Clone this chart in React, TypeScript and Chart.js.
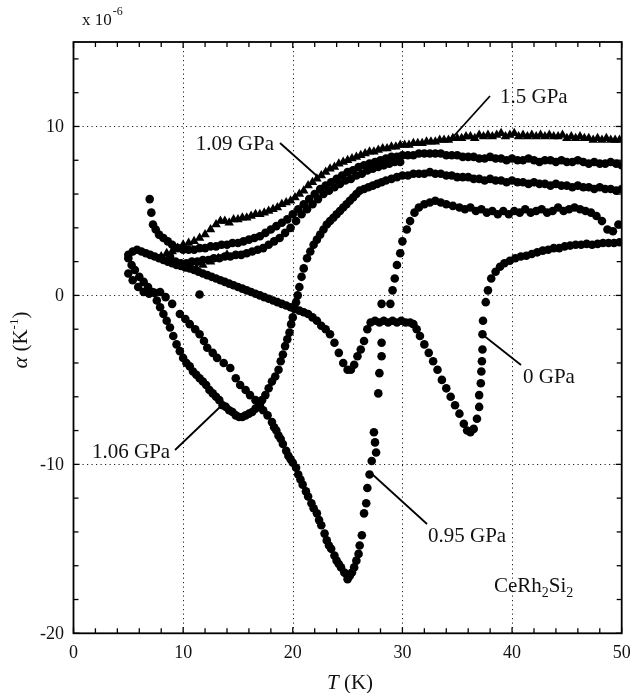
import React, { useEffect, useRef } from 'react';
import { Chart, registerables } from 'chart.js';

Chart.register(...registerables);

// ---- tick values ----
const xTicks = [0, 10, 20, 30, 40, 50];
const yTicks = [-20, -10, 0, 10];
const xGridValues = [10, 20, 30, 40];
const yGridValues = [-10, 0, 10];

// ---- series: [T (K), alpha (1e-6 / K)] ----
const p0GPa: number[][] = [
  [5.0,2.4],[5.4,2.6],[5.8,2.7],[6.2,2.6],[6.6,2.5],[7.0,2.4],[7.4,2.3],[7.8,2.2],[8.2,2.1],[8.6,2.0],
  [9.0,1.9],[9.4,1.8],[9.8,1.75],[10.2,1.65],[10.6,1.6],[11.0,1.5],[11.4,1.4],[11.8,1.3],[12.2,1.2],[12.6,1.1],
  [13.0,1.0],[13.4,0.9],[13.8,0.8],[14.2,0.7],[14.6,0.6],[15.0,0.5],[15.4,0.4],[15.8,0.3],[16.2,0.2],[16.6,0.1],
  [17.0,0.0],[17.4,-0.1],[17.8,-0.2],[18.2,-0.3],[18.6,-0.4],[19.0,-0.5],[19.4,-0.6],[19.8,-0.7],[20.2,-0.8],[20.6,-0.9],
  [21.0,-1.0],[21.4,-1.1],[21.8,-1.3],[22.2,-1.5],[22.6,-1.8],[23.0,-2.0],[23.4,-2.3],[23.8,-2.8],[24.2,-3.4],[24.6,-4.0],
  [25.0,-4.4],[25.3,-4.4],[25.6,-4.1],[25.9,-3.6],[26.2,-3.2],[26.5,-2.7],[26.8,-2.0],[27.1,-1.6],[27.5,-1.5],[27.9,-1.6],
  [28.3,-1.5],[28.7,-1.6],[29.1,-1.5],[29.5,-1.6],[29.9,-1.5],[30.3,-1.6],[30.7,-1.6],[31.0,-1.7],[31.3,-2.0],[31.6,-2.4],
  [32.0,-2.9],[32.4,-3.4],[32.8,-3.9],[33.2,-4.4],[33.6,-5.0],[34.0,-5.5],[34.4,-6.0],[34.8,-6.5],[35.2,-7.0],[35.6,-7.6],
  [35.9,-8.0],[36.2,-8.1],[36.5,-7.9],[36.8,-7.3],[37.0,-6.6],[37.0,-5.9],[37.15,-5.2],[37.2,-4.5],[37.25,-3.9],[37.3,-3.2],
  [37.3,-2.3],[37.35,-1.5],[37.6,-0.4],[37.8,0.3],[38.1,1.0],[38.5,1.4],[38.9,1.7],[39.3,1.9],[39.8,2.05],[40.3,2.2],
  [40.8,2.3],[41.3,2.35],[41.8,2.45],[42.3,2.55],[42.8,2.65],[43.3,2.7],[43.8,2.8],[44.3,2.8],[44.8,2.9],[45.3,2.95],
  [45.8,3.0],[46.3,3.0],[46.8,3.05],[47.3,3.0],[47.8,3.05],[48.3,3.1],[48.8,3.1],[49.3,3.1],[49.8,3.15],
];

const p095GPa: number[][] = [
  [5.0,1.3],[5.4,0.9],[5.9,0.5],[6.4,0.2],[6.9,0.1],[7.4,0.15],[7.9,0.2],[8.4,-0.1],[9.0,-0.5],[9.7,-1.1],
  [10.2,-1.4],[10.6,-1.7],[11.1,-2.0],[11.5,-2.3],[11.5,0.05],[11.9,-2.7],[12.2,-3.1],[12.7,-3.4],[13.1,-3.7],[13.7,-4.0],
  [14.3,-4.3],[14.8,-4.9],[15.2,-5.3],[15.7,-5.6],[16.1,-5.9],[16.6,-6.2],[17.0,-6.5],[17.3,-6.8],[17.7,-7.1],[18.1,-7.5],
  [18.3,-7.8],[18.5,-8.0],[18.7,-8.3],[18.9,-8.5],[19.1,-8.8],[19.4,-9.2],[19.6,-9.5],[19.8,-9.7],[20.0,-9.9],[20.3,-10.2],
  [20.5,-10.6],[20.7,-10.9],[20.9,-11.2],[21.2,-11.6],[21.4,-11.9],[21.7,-12.3],[21.9,-12.6],[22.2,-12.9],[22.4,-13.3],[22.6,-13.6],
  [22.9,-14.1],[23.1,-14.5],[23.3,-14.8],[23.5,-15.0],[23.8,-15.4],[24.0,-15.7],[24.2,-15.9],[24.4,-16.1],[24.7,-16.4],[24.9,-16.5],
  [25.0,-16.8],[25.2,-16.6],[25.4,-16.4],[25.6,-16.1],[25.8,-15.7],[26.0,-15.3],[26.1,-14.8],[26.3,-14.2],[26.5,-12.9],[26.7,-12.3],
  [26.8,-11.4],[27.0,-10.6],[27.2,-9.8],[27.6,-9.3],[27.5,-8.7],[27.4,-8.1],[27.8,-5.8],[27.9,-4.6],[28.1,-3.6],[28.1,-2.8],
  [28.1,-0.5],[28.9,-0.5],[29.1,0.3],[29.3,1.0],[29.5,1.8],[29.8,2.5],[30.0,3.2],[30.4,3.9],[30.7,4.4],[31.1,4.9],
  [31.5,5.2],[32.0,5.4],[32.5,5.5],[33.0,5.6],[33.5,5.5],[34.0,5.4],[34.6,5.3],[35.2,5.2],[35.7,5.1],[36.2,5.2],
  [36.7,5.0],[37.2,5.1],[37.7,4.9],[38.2,5.0],[38.7,4.8],[39.2,5.0],[39.7,4.8],[40.2,5.0],[40.7,4.9],[41.2,5.1],
  [41.7,4.9],[42.2,5.0],[42.7,5.1],[43.2,4.9],[43.7,5.0],[44.2,5.2],[44.7,5.0],[45.2,5.1],[45.7,5.2],[46.2,5.1],
  [46.7,5.0],[47.2,4.9],[47.7,4.7],[48.2,4.4],[48.7,3.9],[49.2,3.8],[49.7,4.2],
];

const p106GPa: number[][] = [
  [5.0,2.2],[5.3,1.8],[5.6,1.5],[6.0,1.1],[6.4,0.8],[6.8,0.5],[7.2,0.2],[7.6,-0.3],[7.9,-0.7],[8.2,-1.1],
  [8.5,-1.5],[8.8,-1.9],[9.1,-2.4],[9.4,-2.9],[9.7,-3.3],[10.0,-3.7],[10.3,-4.0],[10.6,-4.2],[10.9,-4.5],[11.2,-4.7],
  [11.5,-4.9],[11.8,-5.1],[12.1,-5.3],[12.4,-5.6],[12.7,-5.8],[13.0,-6.0],[13.3,-6.2],[13.6,-6.5],[13.9,-6.6],[14.2,-6.8],
  [14.5,-6.9],[14.8,-7.1],[15.1,-7.2],[15.4,-7.2],[15.7,-7.1],[16.0,-7.0],[16.3,-6.9],[16.6,-6.7],[16.9,-6.4],[17.2,-6.2],
  [17.5,-5.9],[17.8,-5.5],[18.1,-5.1],[18.4,-4.8],[18.7,-4.4],[18.9,-3.9],[19.1,-3.5],[19.3,-3.0],[19.5,-2.6],[19.7,-2.2],
  [19.85,-1.7],[20.0,-1.3],[20.15,-0.8],[20.3,-0.4],[20.45,0.0],[20.6,0.5],[20.8,1.1],[21.0,1.6],[21.3,2.2],[21.6,2.6],
  [21.9,3.0],[22.2,3.3],[22.5,3.6],[22.8,3.9],[23.1,4.2],[23.4,4.4],[23.7,4.6],[24.0,4.8],[24.3,5.0],[24.6,5.2],
  [24.9,5.4],[25.2,5.6],[25.5,5.8],[25.8,6.0],[26.1,6.2],[26.5,6.3],[26.9,6.4],[27.3,6.5],[27.7,6.6],[28.1,6.7],
  [28.5,6.8],[29.0,6.9],[29.5,7.0],[30.0,7.1],[30.5,7.1],[31.0,7.2],[31.5,7.2],[32.0,7.2],[32.5,7.3],[33.0,7.2],
  [33.5,7.2],[34.0,7.1],[34.5,7.1],[35.0,7.0],[35.5,7.0],[36.0,7.0],[36.5,6.9],[37.0,6.9],[37.5,6.8],[38.0,6.9],
  [38.5,6.8],[39.0,6.8],[39.5,6.7],[40.0,6.8],[40.5,6.7],[41.0,6.7],[41.5,6.6],[42.0,6.7],[42.5,6.6],[43.0,6.6],
  [43.5,6.5],[44.0,6.6],[44.5,6.5],[45.0,6.5],[45.5,6.4],[46.0,6.5],[46.5,6.4],[47.0,6.4],[47.5,6.3],[48.0,6.4],
  [48.5,6.3],[49.0,6.3],[49.5,6.2],[50.0,6.3],
];

const p109GPa: number[][] = [
  [6.95,5.7],[7.1,4.9],[7.25,4.2],[7.5,3.9],[7.8,3.6],[8.2,3.4],[8.6,3.2],[9.0,3.0],[9.5,2.8],[10.0,2.7],
  [10.5,2.7],[11.0,2.7],[11.5,2.8],[12.0,2.8],[12.5,2.9],[13.0,2.9],[13.5,3.0],[14.0,3.0],[14.5,3.1],[15.0,3.1],
  [15.5,3.2],[16.0,3.3],[16.5,3.4],[17.0,3.5],[17.5,3.7],[18.0,3.9],[18.5,4.1],[19.0,4.3],[19.5,4.5],[20.0,4.8],
  [20.5,5.1],[21.0,5.4],[21.5,5.7],[22.0,6.0],[22.5,6.3],[23.0,6.5],[23.5,6.7],[24.0,6.9],[24.5,7.1],[25.0,7.3],
  [25.5,7.4],[26.0,7.6],[26.5,7.7],[27.0,7.8],[27.5,7.9],[28.0,8.0],[28.5,8.1],[29.0,8.2],[29.5,8.2],[30.0,8.3],
  [30.5,8.3],[31.0,8.3],[31.5,8.4],[32.0,8.4],[32.5,8.4],[33.0,8.4],[33.5,8.4],[34.0,8.3],[34.5,8.3],[35.0,8.3],
  [35.5,8.2],[36.0,8.2],[36.5,8.2],[37.0,8.1],[37.5,8.1],[38.0,8.2],[38.5,8.1],[39.0,8.1],[39.5,8.0],[40.0,8.1],
  [40.5,8.0],[41.0,8.0],[41.5,8.1],[42.0,8.0],[42.5,7.9],[43.0,8.0],[43.5,8.0],[44.0,7.9],[44.5,8.0],[45.0,7.9],
  [45.5,7.9],[46.0,8.0],[46.5,7.9],[47.0,7.8],[47.5,7.9],[48.0,7.8],[48.5,7.8],[49.0,7.9],[49.5,7.8],[50.0,7.7],
  // second run of the same pressure
  [8.8,2.3],[9.3,2.0],[9.8,1.9],[10.3,1.9],[10.8,2.0],[11.3,2.0],[11.8,2.1],[12.3,2.1],[12.8,2.2],[13.3,2.2],
  [13.8,2.3],[14.3,2.3],[14.8,2.4],[15.3,2.4],[15.8,2.5],[16.3,2.6],[16.8,2.7],[17.3,2.8],[17.8,3.0],[18.3,3.2],
  [18.8,3.4],[19.3,3.7],[19.8,4.0],[20.3,4.4],[20.8,4.8],[21.3,5.1],[21.8,5.4],[22.3,5.7],[22.8,6.0],[23.3,6.2],
  [23.8,6.4],[24.3,6.6],[24.8,6.8],[25.3,6.9],[25.8,7.1],[26.3,7.2],[26.8,7.4],[27.3,7.5],[27.8,7.6],[28.3,7.7],
  [28.8,7.8],[29.3,7.9],[29.8,7.9],
];

const p15GPa: number[][] = [
  [8.0,2.3],[8.5,2.5],[9.0,2.6],[9.5,2.8],[10.0,3.0],[10.5,3.1],[11.0,3.2],[11.5,3.4],[12.0,3.6],[12.5,3.9],
  [13.0,4.2],[13.4,4.4],[13.8,4.4],[14.2,4.3],[14.6,4.5],[15.0,4.5],[15.4,4.6],[15.8,4.6],[16.2,4.7],[16.6,4.8],
  [17.0,4.8],[17.4,4.9],[17.8,5.0],[18.2,5.1],[18.6,5.2],[19.0,5.4],[19.4,5.5],[19.8,5.6],[20.2,5.8],[20.6,6.0],
  [21.0,6.2],[21.4,6.5],[21.8,6.7],[22.2,6.9],[22.6,7.1],[23.0,7.3],[23.4,7.5],[23.8,7.6],[24.2,7.8],[24.6,7.9],
  [25.0,8.0],[25.4,8.1],[25.8,8.2],[26.2,8.3],[26.6,8.4],[27.0,8.5],[27.4,8.5],[27.8,8.6],[28.2,8.7],[28.6,8.7],
  [29.0,8.8],[29.4,8.8],[29.8,8.9],[30.2,8.9],[30.6,8.9],[31.0,9.0],[31.4,9.0],[31.8,9.0],[32.2,9.1],[32.6,9.1],
  [33.0,9.1],[33.4,9.2],[33.8,9.2],[34.2,9.2],[34.6,9.3],[35.0,9.3],[35.4,9.3],[35.8,9.4],[36.2,9.4],[36.6,9.3],
  [37.0,9.5],[37.4,9.4],[37.8,9.5],[38.2,9.4],[38.6,9.5],[39.0,9.6],[39.4,9.4],[39.8,9.5],[40.2,9.6],[40.6,9.4],
  [41.0,9.5],[41.4,9.4],[41.8,9.5],[42.2,9.4],[42.6,9.5],[43.0,9.4],[43.4,9.5],[43.8,9.4],[44.2,9.4],[44.6,9.5],
  [45.0,9.3],[45.4,9.4],[45.8,9.3],[46.2,9.4],[46.6,9.3],[47.0,9.3],[47.4,9.2],[47.8,9.3],[48.2,9.2],[48.6,9.3],
  [49.0,9.2],[49.4,9.2],[49.8,9.2],
  [11.2,1.6],[11.8,1.8],[12.5,2.0],[13.2,2.2],[14.0,2.4],
];

const SERIF = '"Liberation Serif", "DejaVu Serif", serif';

const toPts = (a: number[][]) => a.map(([x, y]) => ({ x, y }));

const decorPlugin = {
  id: 'decor',
  beforeDatasetsDraw(chart: any) {
    const { ctx, chartArea, scales } = chart;
    const { left, right, top, bottom } = chartArea;
    const x = scales.x, y = scales.y;
    ctx.save();
    ctx.strokeStyle = '#222';
    ctx.lineWidth = 1;
    ctx.setLineDash([1.2, 3.3]);
    xGridValues.forEach((v) => {
      const px = Math.round(x.getPixelForValue(v)) + 0.5;
      ctx.beginPath(); ctx.moveTo(px, top); ctx.lineTo(px, bottom); ctx.stroke();
    });
    yGridValues.forEach((v) => {
      const py = Math.round(y.getPixelForValue(v)) + 0.5;
      ctx.beginPath(); ctx.moveTo(left, py); ctx.lineTo(right, py); ctx.stroke();
    });
    ctx.restore();
  },
  afterDatasetsDraw(chart: any) {
    const { ctx, chartArea, scales } = chart;
    const { left, right, top, bottom } = chartArea;
    const x = scales.x, y = scales.y;
    ctx.save();
    ctx.setLineDash([]);
    ctx.strokeStyle = '#000';
    // frame
    ctx.lineWidth = 1.8;
    ctx.strokeRect(left, top, right - left, bottom - top);
    // minor/major ticks inside
    ctx.lineWidth = 1.3;
    for (let v = 0; v <= 50; v += 2) {
      const px = x.getPixelForValue(v);
      const len = v % 10 === 0 ? 6 : 5;
      ctx.beginPath(); ctx.moveTo(px, bottom); ctx.lineTo(px, bottom - len); ctx.stroke();
      ctx.beginPath(); ctx.moveTo(px, top); ctx.lineTo(px, top + len); ctx.stroke();
    }
    for (let v = -20; v <= 14; v += 2) {
      const py = y.getPixelForValue(v);
      const len = v % 10 === 0 ? 6 : 5;
      ctx.beginPath(); ctx.moveTo(left, py); ctx.lineTo(left + len, py); ctx.stroke();
      ctx.beginPath(); ctx.moveTo(right, py); ctx.lineTo(right - len, py); ctx.stroke();
    }
    // tick labels
    ctx.fillStyle = '#111';
    ctx.font = `18px ${SERIF}`;
    ctx.textAlign = 'center';
    ctx.textBaseline = 'alphabetic';
    xTicks.forEach((v) => {
      ctx.fillText(String(v), x.getPixelForValue(v), 658);
    });
    ctx.textAlign = 'right';
    ctx.textBaseline = 'middle';
    yTicks.forEach((v) => {
      ctx.fillText(String(v), 64, y.getPixelForValue(v) + 1);
    });

    // x 10^-6
    ctx.textAlign = 'left';
    ctx.textBaseline = 'alphabetic';
    ctx.font = `17px ${SERIF}`;
    ctx.fillText('x 10', 82, 25);
    const w10 = ctx.measureText('x 10').width;
    ctx.font = `12px ${SERIF}`;
    ctx.fillText('-6', 82 + w10 + 1, 15);

    // x title
    ctx.font = `italic 21px ${SERIF}`;
    const wT = ctx.measureText('T').width;
    ctx.font = `21px ${SERIF}`;
    const wK = ctx.measureText(' (K)').width;
    const sx = 350 - (wT + wK) / 2;
    ctx.font = `italic 21px ${SERIF}`;
    ctx.fillText('T', sx, 689);
    ctx.font = `21px ${SERIF}`;
    ctx.fillText(' (K)', sx + wT, 689);

    // y title (rotated)
    ctx.save();
    ctx.translate(27, 340);
    ctx.rotate(-Math.PI / 2);
    ctx.font = `italic 22px ${SERIF}`;
    const wa = ctx.measureText('\u03b1').width;
    ctx.font = `21px ${SERIF}`;
    const wk = ctx.measureText(' (K').width;
    const wc = ctx.measureText(')').width;
    ctx.font = `13px ${SERIF}`;
    const ws = ctx.measureText('-1').width;
    let cx = -(wa + wk + ws + wc) / 2;
    ctx.font = `italic 22px ${SERIF}`;
    ctx.fillText('\u03b1', cx, 0); cx += wa;
    ctx.font = `21px ${SERIF}`;
    ctx.fillText(' (K', cx, 0); cx += wk;
    ctx.font = `13px ${SERIF}`;
    ctx.fillText('-1', cx, -9); cx += ws;
    ctx.font = `21px ${SERIF}`;
    ctx.fillText(')', cx, 0);
    ctx.restore();

    // annotations
    ctx.font = `21px ${SERIF}`;
    ctx.textAlign = 'right';
    ctx.fillText('1.09 GPa', 274, 150);
    ctx.textAlign = 'left';
    ctx.fillText('1.5 GPa', 500, 103);
    ctx.fillText('1.06 GPa', 92, 458);
    ctx.fillText('0 GPa', 523, 383);
    ctx.fillText('0.95 GPa', 428, 542);
    // CeRh2Si2
    let tx = 494;
    const parts: [string, boolean][] = [['CeRh', false], ['2', true], ['Si', false], ['2', true]];
    parts.forEach(([s, sub]) => {
      ctx.font = sub ? `14px ${SERIF}` : `21px ${SERIF}`;
      ctx.fillText(s, tx, sub ? 597 : 592);
      tx += ctx.measureText(s).width;
    });

    // leader lines
    ctx.lineWidth = 1.8;
    const lines = [
      [280, 143, 317, 176],
      [490, 96, 453, 137],
      [175, 450, 220, 407],
      [483, 335, 521, 365],
      [372, 474, 427, 524],
    ];
    lines.forEach(([a, b, c, d]) => {
      ctx.beginPath(); ctx.moveTo(a, b); ctx.lineTo(c, d); ctx.stroke();
    });
    ctx.restore();
  },
};

export default function App() {
  const ref = useRef<HTMLCanvasElement | null>(null);
  useEffect(() => {
    if (!ref.current) return;
    const mk = (label: string, arr: number[][], style: string, r: number) => ({
      label,
      data: toPts(arr),
      pointStyle: style,
      pointRadius: r,
      pointBackgroundColor: '#000',
      pointBorderColor: '#000',
      pointBorderWidth: 0,
      showLine: false,
    });
    const chart = new Chart(ref.current, {
      type: 'scatter',
      data: {
        datasets: [
          mk('0 GPa', p0GPa, 'circle', 4.3),
          mk('0.95 GPa', p095GPa, 'circle', 4.3),
          mk('1.06 GPa', p106GPa, 'circle', 4.3),
          mk('1.09 GPa', p109GPa, 'circle', 4.3),
          mk('1.5 GPa', p15GPa, 'triangle', 5.5),
        ] as any,
      },
      options: {
        animation: false,
        responsive: false,
        layout: { padding: { left: 73.5, right: 11.3, top: 42, bottom: 59.7 } },
        plugins: { legend: { display: false }, tooltip: { enabled: false } },
        scales: {
          x: { type: 'linear', min: 0, max: 50, display: false },
          y: { type: 'linear', min: -20, max: 15, display: false },
        },
      },
      plugins: [decorPlugin],
    });
    return () => chart.destroy();
  }, []);
  return (
    <div style={{ position: 'fixed', left: 0, top: 0, width: 633, height: 693, background: '#fff' }}>
      <canvas ref={ref} width={633} height={693} style={{ width: 633, height: 693, display: 'block' }} />
    </div>
  );
}
